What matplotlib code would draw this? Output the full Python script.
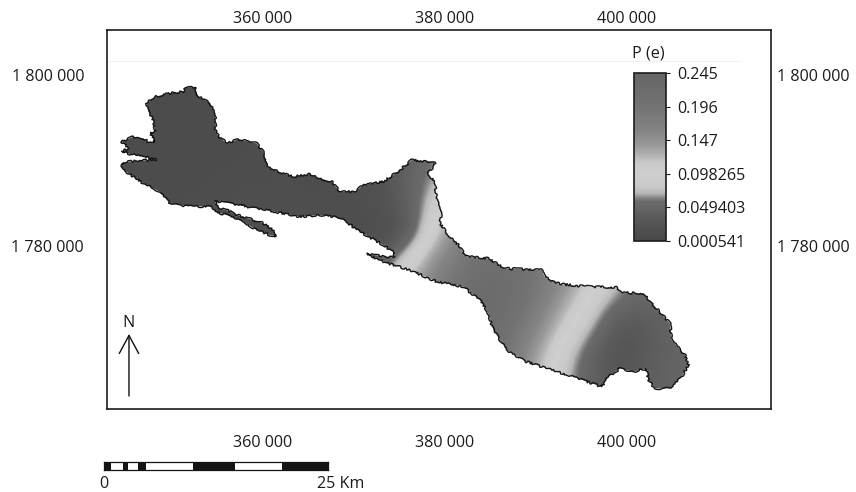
import numpy as np
import matplotlib
matplotlib.use("Agg")
import matplotlib.pyplot as plt
from matplotlib.colors import LinearSegmentedColormap
from matplotlib.patches import Polygon

plt.rcParams['font.family'] = ['Open Sans', 'DejaVu Sans']

# map ticks
x_ticks = [360000, 380000, 400000]
x_labels = ["360 000", "380 000", "400 000"]
y_ticks = [1780000, 1800000]
y_labels = ["1 780 000", "1 800 000"]

# coastline (easting / northing in metres)
coast_e = [347214, 348130, 349778, 351244, 351427, 352526, 352892, 354174, 354723, 354833,
           356005, 357287, 359302, 360035, 360584, 362233, 363332, 365163, 366262, 367544,
           368460, 370108, 371024, 373222, 375053, 376335, 378719, 378902, 378169, 378902,
           379085, 379634, 379451, 380367, 381649, 382198, 383297, 384763, 386594, 390623,
           390990, 392638, 395935, 398865, 399415, 401796, 403078, 404726, 404909, 406374,
           406741, 406008, 404726, 403078, 402345, 402162, 400697, 399231, 397949, 397216,
           394103, 391173, 388975, 386777, 385312, 384763, 383847, 382015, 379085, 376155,
           373774, 372858, 371393, 372492, 374323, 374506, 373224, 370660, 368826, 367727,
           366262, 364064, 361866, 359302, 356738, 355456, 354723, 355273, 356189, 357471,
           359669, 360951, 361500, 360767, 359302, 357837, 356005, 354723, 354357, 351610,
           349778, 348679, 346848, 345749, 344467, 344467, 345200, 348313, 345383, 344467,
           345200, 344467, 345749, 346848, 347581, 348130, 347581, 348130, 347947, 347398]
coast_n = [1796685, 1797465, 1797855, 1798050, 1798557, 1798557, 1797465, 1796763, 1795515, 1793175,
           1792005, 1792473, 1792005, 1791030, 1789197, 1788495, 1788105, 1788417, 1787910, 1787520,
           1786350, 1786350, 1787130, 1787520, 1788885, 1790055, 1789860, 1789587, 1788495, 1787325,
           1785765, 1784205, 1782645, 1781280, 1779915, 1778823, 1778667, 1778550, 1777380, 1777185,
           1776327, 1775547, 1775235, 1775157, 1774533, 1774455, 1772895, 1770945, 1768995, 1767240,
           1766070, 1764705, 1763340, 1763340, 1764315, 1765680, 1765290, 1765680, 1764705, 1763535,
           1764705, 1765680, 1766460, 1767825, 1770165, 1772115, 1773675, 1775235, 1775820, 1777185,
           1777965, 1778355, 1779057, 1778901, 1778667, 1779135, 1780110, 1781670, 1783035, 1783425,
           1783620, 1783425, 1783893, 1784400, 1784907, 1785180, 1785180, 1784400, 1784127, 1783503,
           1782840, 1782060, 1781163, 1781280, 1781865, 1782840, 1783620, 1784010, 1784595, 1784673,
           1784985, 1786350, 1787325, 1788105, 1789080, 1789665, 1789860, 1790133, 1790757, 1791030,
           1791420, 1792200, 1792785, 1792590, 1792005, 1792200, 1793253, 1793370, 1794735, 1795710]

# P(e) field estimated from the grey levels, rows run north to south
grid_e = [342900, 346200, 349500, 352800, 356100, 359400, 362700, 366000, 369300, 372600, 375900,
          379200, 382500, 385800, 389100, 392400, 395700, 399000, 402300, 405600, 408900]
grid_n = [1798800, 1795300, 1791800, 1788300, 1784800, 1781300, 1777800, 1774300, 1770800, 1767300, 1763800]
p_grid = [
    [.010, .010, .010, .010, .010, .012, .012, .012, .012, .012, .040, .060, .065, .070, .070, .070, .070, .070, .070, .070, .070],
    [.010, .010, .010, .010, .010, .012, .012, .012, .012, .012, .040, .060, .065, .070, .070, .070, .070, .070, .070, .070, .070],
    [.010, .010, .010, .010, .010, .012, .012, .012, .012, .015, .040, .060, .070, .080, .080, .080, .080, .075, .070, .070, .070],
    [.010, .010, .010, .010, .012, .012, .014, .012, .015, .020, .045, .066, .090, .090, .090, .090, .090, .080, .070, .070, .070],
    [.012, .012, .012, .012, .014, .016, .014, .014, .014, .018, .040, .090, .140, .140, .140, .130, .110, .080, .065, .060, .060],
    [.012, .012, .012, .012, .014, .016, .014, .014, .015, .012, .020, .125, .170, .190, .180, .150, .110, .075, .060, .055, .055],
    [.012, .012, .012, .012, .012, .012, .012, .012, .015, .030, .105, .160, .200, .220, .200, .170, .130, .075, .055, .050, .050],
    [.012, .012, .012, .012, .012, .012, .012, .012, .030, .080, .130, .180, .220, .225, .200, .150, .100, .064, .050, .050, .050],
    [.012, .012, .012, .012, .012, .012, .015, .030, .080, .120, .150, .200, .220, .220, .180, .120, .078, .025, .035, .050, .050],
    [.012, .012, .012, .012, .015, .020, .030, .060, .120, .160, .190, .210, .215, .210, .150, .092, .045, .018, .035, .048, .050],
    [.012, .012, .012, .015, .020, .030, .050, .090, .140, .170, .190, .200, .200, .200, .130, .085, .040, .030, .040, .050, .050],
]

# grey levels of the colour bar
bar_ticks = [0.000541, 0.049403, 0.098265, 0.147, 0.196, 0.245]
bar_labels = ["0.000541", "0.049403", "0.098265", "0.147", "0.196", "0.245"]
cmap_values = [0.000541, 0.025, 0.049, 0.058, 0.063, 0.070, 0.080, 0.098, 0.115, 0.125, 0.140, 0.160, 0.196, 0.245]
cmap_greys = [0.28, 0.33, 0.40, 0.42, 0.52, 0.72, 0.79, 0.81, 0.79, 0.70, 0.60, 0.52, 0.45, 0.40]

# scale bar
scale_km = [0, 0.74, 2.1, 2.7, 3.85, 4.7, 9.9, 14.6, 19.9, 25]

W, H = 856, 492
FS = 11.6
TXT = "#1c1c1c"
fig = plt.figure(figsize=(W / 100, H / 100), dpi=100)


def px_axes(left, top, right, bottom):
    return fig.add_axes([left / W, 1 - bottom / H, (right - left) / W, (bottom - top) / H])


vmin, vmax = bar_ticks[0], bar_ticks[-1]
pos = [(v - vmin) / (vmax - vmin) for v in cmap_values]
cmap = LinearSegmentedColormap.from_list("pe", [(p, (g, g, g)) for p, g in zip(pos, cmap_greys)], N=512)

# %% map
ax = px_axes(107, 30, 771, 409)
de = (grid_e[1] - grid_e[0]) / 2
dn = (grid_n[0] - grid_n[1]) / 2
im = ax.imshow(p_grid, cmap=cmap, vmin=vmin, vmax=vmax, aspect="auto", origin="upper",
               interpolation="bicubic", interpolation_stage="data",
               extent=[grid_e[0] - de, grid_e[-1] + de, grid_n[-1] - dn, grid_n[0] + dn])
coast = Polygon(np.column_stack([coast_e, coast_n]), closed=True, fill=False,
                edgecolor="#151515", lw=1.0, joinstyle="round", zorder=3)
coast.set_sketch_params(scale=1.1, length=9, randomness=18)
ax.add_patch(coast)
im.set_clip_path(coast)

ax.set_xlim(342857, 415824)
ax.set_ylim(1760936, 1805263)
ax.set_xticks(x_ticks, x_labels)
ax.set_yticks(y_ticks, y_labels)
ax.tick_params(axis="x", length=0, labelsize=FS, colors=TXT, pad=18.5)
ax.tick_params(axis="y", length=0, labelsize=FS, colors=TXT, pad=16.5)
for s in ax.spines.values():
    s.set_linewidth(1.2)
    s.set_color(TXT)

top = ax.secondary_xaxis("top")
top.set_xticks(x_ticks, x_labels)
top.tick_params(length=0, labelsize=FS, colors=TXT, pad=2.5)
top.spines["top"].set_visible(False)
right = ax.secondary_yaxis("right")
right.set_yticks(y_ticks, y_labels)
right.tick_params(length=0, labelsize=FS, colors=TXT, pad=4)
right.spines["right"].set_visible(False)

# faint line near the top of the frame
ax.plot([0, 0.955], [0.917, 0.917], transform=ax.transAxes, color="#eeeeee", lw=0.6)

# north arrow
ax.annotate("", xy=(0.0331, 0.198), xytext=(0.0331, 0.0343), xycoords="axes fraction",
            arrowprops=dict(arrowstyle="->,head_length=13,head_width=7", mutation_scale=1,
                            lw=1.0, color="#111111", shrinkA=0, shrinkB=0))
ax.text(0.0331, 0.226, "N", transform=ax.transAxes, ha="center", va="center", fontsize=FS, color=TXT)

# %% colour bar
cax = px_axes(634, 73, 666, 241)
cb = fig.colorbar(im, cax=cax, ticks=bar_ticks)
cb.ax.set_yticklabels(bar_labels)
cb.ax.tick_params(length=3, width=0.8, labelsize=FS, pad=5, colors=TXT)
cb.outline.set_linewidth(1.2)
cb.outline.set_edgecolor(TXT)
fig.text(648 / W, 1 - 54 / H, "P (e)", ha="center", va="center", fontsize=FS, color=TXT)

# %% scale bar
sax = px_axes(104, 462, 328, 470)
sax.set_xlim(scale_km[0], scale_km[-1])
sax.set_ylim(0, 1)
for i in range(len(scale_km) - 1):
    sax.barh(0.5, scale_km[i + 1] - scale_km[i], left=scale_km[i], height=1,
             color="#141414" if i % 2 == 0 else "white", lw=0)
sax.set_xticks([])
sax.set_yticks([])
for s in sax.spines.values():
    s.set_linewidth(0.9)
    s.set_color("#141414")
fig.text(104 / W, 1 - 484 / H, "0", ha="center", va="center", fontsize=FS, color=TXT)
fig.text(317 / W, 1 - 484 / H, "25 Km", ha="left", va="center", fontsize=FS, color=TXT)

fig.savefig("out.png", dpi=100)
